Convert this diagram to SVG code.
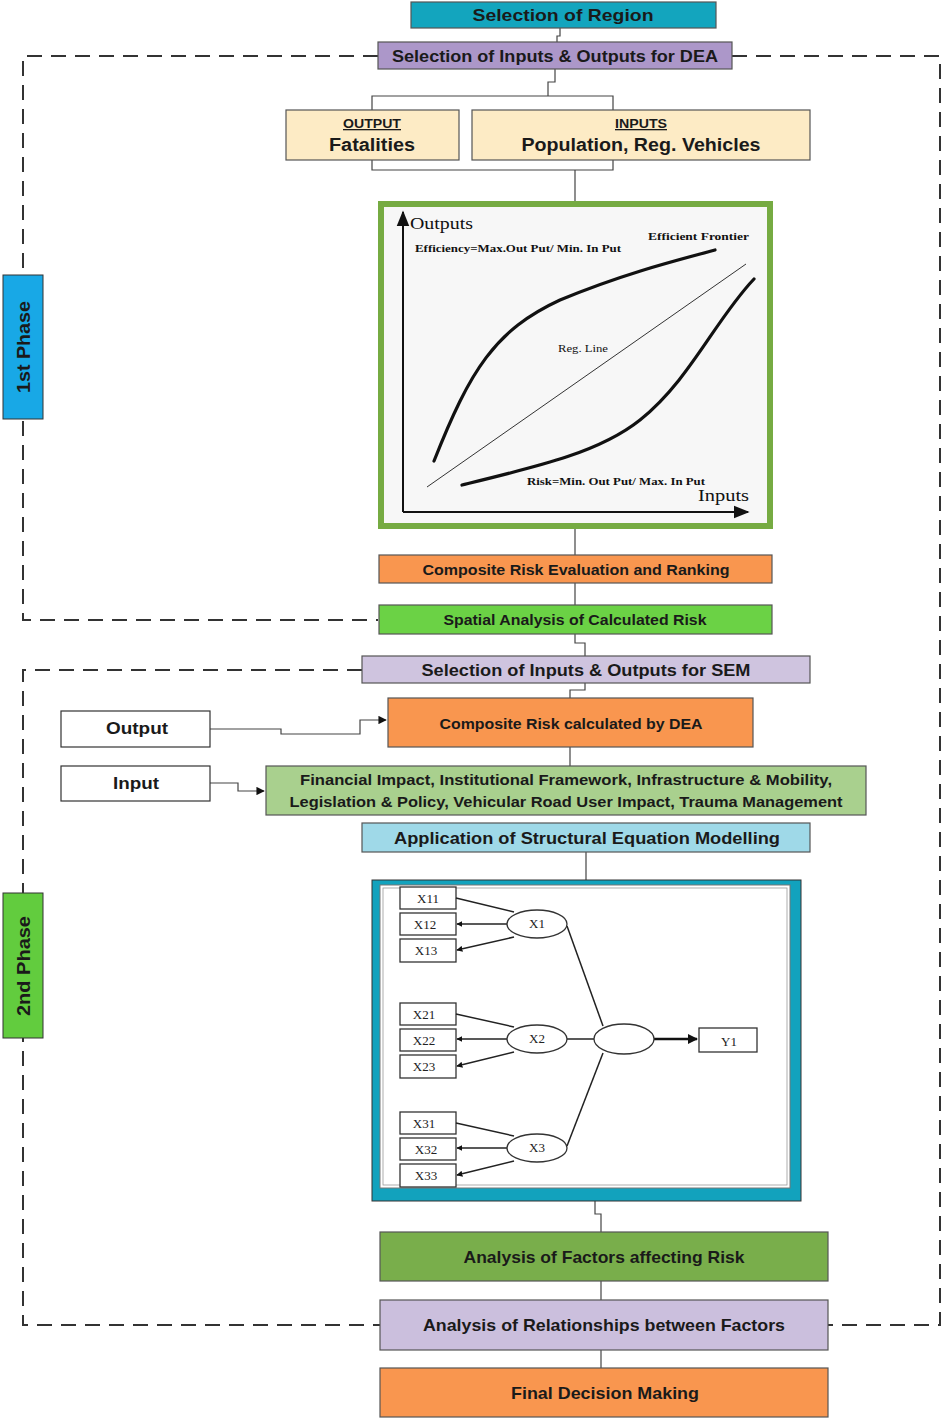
<svg xmlns="http://www.w3.org/2000/svg" width="943" height="1419" viewBox="0 0 943 1419">
<style>
.box{stroke:#555;stroke-width:1.2}
.t{font-family:"Liberation Sans",Arial,sans-serif;font-weight:bold;fill:#1a1a1a;text-anchor:middle}
.conn{fill:none;stroke:#444;stroke-width:1.2}
.dash{fill:none;stroke:#333;stroke-width:2;stroke-dasharray:15,9}
.serif{font-family:"Liberation Serif","Times New Roman",serif;fill:#111}
.sem{fill:#fff;stroke:#333;stroke-width:1.3}
.semt{font-family:"Liberation Serif","Times New Roman",serif;font-size:13px;fill:#222;text-anchor:middle}
.semline{stroke:#222;stroke-width:1.5;fill:none}
</style>
<defs>
<marker id="arr" viewBox="0 0 10 10" refX="9" refY="5" markerWidth="7" markerHeight="7" orient="auto"><path d="M0,0L10,5L0,10z" fill="#111"/></marker>
<marker id="sarr" viewBox="0 0 10 10" refX="9" refY="5" markerWidth="4" markerHeight="4" orient="auto"><path d="M0,0L10,5L0,10z" fill="#111"/></marker>
<marker id="axarr" viewBox="0 0 10 10" refX="9" refY="5" markerWidth="8" markerHeight="8" orient="auto"><path d="M0,1L10,5L0,9z" fill="#111"/></marker>
</defs>

<!-- phase boundaries -->
<g id="phases">
<path class="dash" d="M378,56 H23 V620 H378"/>
<path class="dash" d="M732,56 H940 V1325 H828"/>
<path class="dash" d="M362,670 H23 V1325 H380"/>
</g>

<!-- connectors -->
<g id="connectors">
<path class="conn" d="M560,28 V36 H557 V42"/>
<path class="conn" d="M555,69 V82 H548 V96"/>
<path class="conn" d="M372,110 V96 H613 V110"/>
<path class="conn" d="M372,160 V170 H613 V160"/>
<path class="conn" d="M575,170 V202"/>
<path class="conn" d="M575,528 V555"/>
<path class="conn" d="M575,583 V605"/>
<path class="conn" d="M575,634 V643 H585 V656"/>
<path class="conn" d="M585,683 V690 H570 V698"/>
<path class="conn" d="M210,729 H281 V734 H360 V720 H386" marker-end="url(#arr)"/>
<path class="conn" d="M570,747 V766"/>
<path class="conn" d="M210,783 H238 V791 H252 V791 H264" marker-end="url(#arr)"/>
<path class="conn" d="M586,852 V880"/>
<path class="conn" d="M595,1201 V1214 H601 V1232"/>
<path class="conn" d="M601,1281 V1300"/>
<path class="conn" d="M601,1350 V1368"/>
</g>

<g id="phase1-label">
<rect x="3" y="275" width="40" height="144" fill="#18a8e6" stroke="#333" stroke-width="1"/>
<text class="t" transform="translate(30,347) rotate(-90)" font-size="19" textLength="92" lengthAdjust="spacingAndGlyphs">1st Phase</text>
</g>
<g id="phase2-label">
<rect x="3" y="893" width="40" height="145" fill="#62cc3e" stroke="#333" stroke-width="1"/>
<text class="t" transform="translate(30,966) rotate(-90)" font-size="19" textLength="100" lengthAdjust="spacingAndGlyphs">2nd Phase</text>
</g>

<g id="selection-region">
<rect class="box" x="411" y="2" width="305" height="26" fill="#13a5be"/>
<text class="t" x="563" y="21" font-size="17" textLength="181" lengthAdjust="spacingAndGlyphs">Selection of Region</text>
</g>
<g id="selection-dea">
<rect class="box" x="378" y="42" width="354" height="27" fill="#ac97c9"/>
<text class="t" x="555" y="62" font-size="17" textLength="326" lengthAdjust="spacingAndGlyphs">Selection of Inputs &amp; Outputs for DEA</text>
</g>
<g id="output-box">
<rect class="box" x="286" y="110" width="173" height="50" fill="#fdebc5"/>
<text class="t" x="372" y="128" font-size="13" textLength="58" lengthAdjust="spacingAndGlyphs" text-decoration="underline" font-weight="normal">OUTPUT</text>
<text class="t" x="372" y="151" font-size="18" textLength="86" lengthAdjust="spacingAndGlyphs">Fatalities</text>
</g>
<g id="inputs-box">
<rect class="box" x="472" y="110" width="338" height="50" fill="#fdebc5"/>
<text class="t" x="641" y="128" font-size="13" textLength="52" lengthAdjust="spacingAndGlyphs" text-decoration="underline" font-weight="normal">INPUTS</text>
<text class="t" x="641" y="151" font-size="18" textLength="239" lengthAdjust="spacingAndGlyphs">Population, Reg. Vehicles</text>
</g>

<g id="dea-chart">
<rect x="381" y="204" width="389" height="322" fill="#f7f7f7" stroke="#76ab42" stroke-width="6"/>
<path d="M403,512 V212" stroke="#111" stroke-width="2" fill="none" marker-end="url(#axarr)"/>
<path d="M403,512 H748" stroke="#111" stroke-width="2" fill="none" marker-end="url(#axarr)"/>
<path d="M434,461 C470,370 495,330 560,300 C620,275 670,262 715,250" stroke="#111" stroke-width="3.2" fill="none" stroke-linecap="round"/>
<path d="M427,487 L746,264" stroke="#333" stroke-width="1" fill="none"/>
<path d="M462,485 C540,466 600,452 640,420 C690,380 715,320 754,279" stroke="#111" stroke-width="3.2" fill="none" stroke-linecap="round"/>
<text class="serif" x="410" y="229" font-size="17" textLength="63" lengthAdjust="spacingAndGlyphs">Outputs</text>
<text class="serif" x="415" y="252" font-size="9.5" font-weight="bold" textLength="206" lengthAdjust="spacingAndGlyphs">Efficiency=Max.Out Put/ Min. In Put</text>
<text class="serif" x="648" y="240" font-size="10" font-weight="bold" textLength="101" lengthAdjust="spacingAndGlyphs">Efficient Frontier</text>
<text class="serif" x="558" y="352" font-size="9.5" fill="#444" textLength="50" lengthAdjust="spacingAndGlyphs">Reg. Line</text>
<text class="serif" x="527" y="485" font-size="9.5" font-weight="bold" textLength="178" lengthAdjust="spacingAndGlyphs">Risk=Min. Out Put/ Max. In Put</text>
<text class="serif" x="698" y="501" font-size="17" textLength="51" lengthAdjust="spacingAndGlyphs">Inputs</text>
</g>

<g id="composite-eval">
<rect class="box" x="379" y="555" width="393" height="28" fill="#f9964f"/>
<text class="t" x="576" y="575" font-size="15" textLength="307" lengthAdjust="spacingAndGlyphs" fill="#2a1400">Composite Risk Evaluation and Ranking</text>
</g>
<g id="spatial">
<rect class="box" x="379" y="605" width="393" height="29" fill="#6bd245"/>
<text class="t" x="575" y="625" font-size="15" textLength="263" lengthAdjust="spacingAndGlyphs">Spatial Analysis of Calculated Risk</text>
</g>
<g id="selection-sem">
<rect class="box" x="362" y="656" width="448" height="27" fill="#cfc4df"/>
<text class="t" x="586" y="676" font-size="17" textLength="329" lengthAdjust="spacingAndGlyphs">Selection of Inputs &amp; Outputs for SEM</text>
</g>
<g id="output-sem">
<rect x="61" y="711" width="149" height="36" fill="#fff" stroke="#333" stroke-width="1.2"/>
<text class="t" x="137" y="734" font-size="16" textLength="62" lengthAdjust="spacingAndGlyphs">Output</text>
</g>
<g id="composite-dea">
<rect class="box" x="388" y="698" width="365" height="49" fill="#f9964f"/>
<text class="t" x="571" y="729" font-size="15" textLength="263" lengthAdjust="spacingAndGlyphs" fill="#2a1400">Composite Risk calculated by DEA</text>
</g>
<g id="input-sem">
<rect x="61" y="766" width="149" height="35" fill="#fff" stroke="#333" stroke-width="1.2"/>
<text class="t" x="136" y="789" font-size="16" textLength="46" lengthAdjust="spacingAndGlyphs">Input</text>
</g>
<g id="factors">
<rect class="box" x="266" y="766" width="600" height="49" fill="#a9d08e"/>
<text class="t" x="566" y="785" font-size="15" textLength="532" lengthAdjust="spacingAndGlyphs">Financial Impact, Institutional Framework, Infrastructure &amp; Mobility,</text>
<text class="t" x="566" y="807" font-size="15" textLength="553" lengthAdjust="spacingAndGlyphs">Legislation &amp; Policy, Vehicular Road User Impact, Trauma Management</text>
</g>
<g id="application-sem">
<rect class="box" x="362" y="823" width="448" height="29" fill="#9fd9e8"/>
<text class="t" x="587" y="844" font-size="17" textLength="386" lengthAdjust="spacingAndGlyphs">Application of Structural Equation Modelling</text>
</g>

<g id="sem-diagram">
<rect x="372" y="880" width="429" height="321" fill="#12a2bd" stroke="#333" stroke-width="1"/>
<rect x="380" y="885" width="410" height="303" fill="#fff" stroke="#777" stroke-width="1"/>
<rect x="383" y="888" width="404" height="297" fill="none" stroke="#999" stroke-width="0.8"/>
<g>
<rect class="sem" x="400" y="887" width="56" height="22"/><text class="semt" x="428" y="903">X11</text>
<rect class="sem" x="400" y="913" width="56" height="22"/><text class="semt" x="425" y="929">X12</text>
<rect class="sem" x="400" y="939" width="56" height="23"/><text class="semt" x="426" y="955">X13</text>
<rect class="sem" x="400" y="1003" width="56" height="22"/><text class="semt" x="424" y="1019">X21</text>
<rect class="sem" x="400" y="1029" width="56" height="22"/><text class="semt" x="424" y="1045">X22</text>
<rect class="sem" x="400" y="1055" width="56" height="23"/><text class="semt" x="424" y="1071">X23</text>
<rect class="sem" x="400" y="1112" width="56" height="22"/><text class="semt" x="424" y="1128">X31</text>
<rect class="sem" x="400" y="1138" width="56" height="22"/><text class="semt" x="426" y="1154">X32</text>
<rect class="sem" x="400" y="1164" width="56" height="23"/><text class="semt" x="426" y="1180">X33</text>
<rect class="sem" x="699" y="1028" width="58" height="24"/><text class="semt" x="729" y="1046">Y1</text>
</g>
<g>
<path class="semline" d="M514,912 L456,898"/>
<path class="semline" d="M507,924 L457,924" marker-end="url(#sarr)"/>
<path class="semline" d="M514,937 L457,950" marker-end="url(#sarr)"/>
<path class="semline" d="M514,1027 L456,1014"/>
<path class="semline" d="M507,1039 L457,1039" marker-end="url(#sarr)"/>
<path class="semline" d="M514,1052 L457,1066" marker-end="url(#sarr)"/>
<path class="semline" d="M514,1136 L456,1123"/>
<path class="semline" d="M507,1148 L457,1148" marker-end="url(#sarr)"/>
<path class="semline" d="M514,1161 L457,1175" marker-end="url(#sarr)"/>
<path class="semline" d="M567,926 L603,1026"/>
<path class="semline" d="M567,1039 L594,1039"/>
<path class="semline" d="M567,1146 L603,1053"/>
<path d="M654,1039 L697,1039" stroke="#111" stroke-width="2.5" fill="none" marker-end="url(#sarr)"/>
</g>
<g>
<ellipse class="sem" cx="537" cy="924" rx="30" ry="14"/><text class="semt" x="537" y="928">X1</text>
<ellipse class="sem" cx="537" cy="1039" rx="30" ry="14"/><text class="semt" x="537" y="1043">X2</text>
<ellipse class="sem" cx="537" cy="1148" rx="30" ry="14"/><text class="semt" x="537" y="1152">X3</text>
<ellipse class="sem" cx="624" cy="1039" rx="30" ry="15"/>
</g>
</g>

<g id="analysis-factors">
<rect class="box" x="380" y="1232" width="448" height="49" fill="#79ae4b"/>
<text class="t" x="604" y="1263" font-size="17" textLength="281" lengthAdjust="spacingAndGlyphs">Analysis of Factors affecting Risk</text>
</g>
<g id="analysis-relationships">
<rect class="box" x="380" y="1300" width="448" height="50" fill="#cbbfdd"/>
<text class="t" x="604" y="1331" font-size="17" textLength="362" lengthAdjust="spacingAndGlyphs">Analysis of Relationships between Factors</text>
</g>
<g id="final-decision">
<rect class="box" x="380" y="1368" width="448" height="49" fill="#f9964f"/>
<text class="t" x="605" y="1399" font-size="17" textLength="188" lengthAdjust="spacingAndGlyphs">Final Decision Making</text>
</g>
</svg>
